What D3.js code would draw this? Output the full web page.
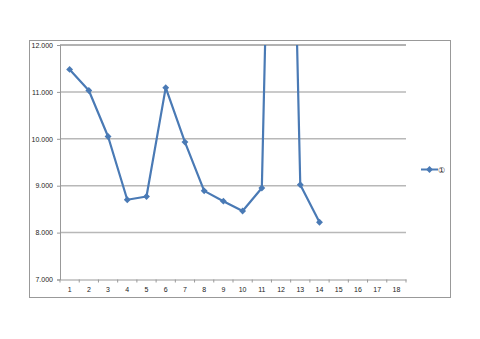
<!DOCTYPE html>
<html>
<head>
<meta charset="utf-8">
<script src="https://cdn.jsdelivr.net/npm/d3@7"></script>
<style>
  body { margin: 0; background: #fff; }
  text { font-family: "Liberation Sans", Arial, sans-serif; }
</style>
</head>
<body>
<svg id="chart"></svg>
<script>
// series values (point 12 runs off the top)
const categories = d3.range(1, 19);
const values = [11.48, 11.03, 10.05, 8.70, 8.77, 11.09, 9.93, 8.89, 8.67, 8.46, 8.95, 27.0, 9.02, 8.22];
const yTicks = [7, 8, 9, 10, 11, 12];
const seriesName = '①';

const width = 480, height = 339;
const svg = d3.select('#chart').attr('width', width).attr('height', height);

// outer chart frame
svg.append('rect')
  .attr('x', 29.5).attr('y', 40.5)
  .attr('width', 421).attr('height', 257)
  .style('fill', '#fff').style('stroke', '#999').style('stroke-width', 1);

const plot = { left: 60, right: 406, top: 45, bottom: 279.5 };

const x = d3.scaleBand().domain(categories).range([plot.left, plot.right]);
const y = d3.scaleLinear().domain([7, 12]).range([plot.bottom, plot.top]);

// gridlines
svg.append('g')
  .selectAll('line')
  .data(yTicks.filter((d) => d > 7))
  .enter()
  .append('line')
  .attr('x1', plot.left).attr('x2', plot.right)
  .attr('y1', (d) => y(d)).attr('y2', (d) => y(d))
  .style('stroke', (d) => (d === 12 ? '#999' : '#b8b8b8'))
  .style('stroke-width', 1.5);

// y axis
const yAxis = svg.append('g')
  .attr('transform', `translate(${plot.left},0)`)
  .call(d3.axisLeft(y).tickValues(yTicks).tickFormat(d3.format('.3f')).tickSize(3).tickPadding(4));
yAxis.select('.domain').style('stroke', '#999');
yAxis.selectAll('.tick line').style('stroke', '#999');
yAxis.selectAll('text').style('font-size', '7px').style('fill', '#222');

// x axis
const xAxis = svg.append('g')
  .attr('transform', `translate(0,${plot.bottom})`)
  .call(d3.axisBottom(x).tickSize(0).tickPadding(8));
xAxis.select('.domain').style('stroke', '#999');
xAxis.selectAll('text').style('font-size', '7px').style('fill', '#222');
// tick marks at category boundaries
xAxis.selectAll('.bound')
  .data(d3.range(categories.length + 1))
  .enter()
  .append('line')
  .attr('x1', (i) => plot.left + i * x.step()).attr('x2', (i) => plot.left + i * x.step())
  .attr('y1', 0).attr('y2', 3)
  .style('stroke', '#999');

// clip line to plot area
svg.append('clipPath').attr('id', 'clip')
  .append('rect')
  .attr('x', plot.left).attr('y', plot.top)
  .attr('width', plot.right - plot.left).attr('height', plot.bottom - plot.top);

const pts = values.map((v, i) => ({ c: categories[i], v }));
const lineColor = '#4a7ab5';

svg.append('path')
  .datum(pts)
  .attr('clip-path', 'url(#clip)')
  .attr('d', d3.line().x((d) => x(d.c) + x.bandwidth() / 2).y((d) => y(d.v)))
  .style('fill', 'none')
  .style('stroke', lineColor)
  .style('stroke-width', 2.2)
  .style('stroke-linejoin', 'round');

const diamond = d3.symbol().type(d3.symbolDiamond2).size(30);
svg.append('g')
  .attr('clip-path', 'url(#clip)')
  .selectAll('path')
  .data(pts)
  .enter()
  .append('path')
  .attr('d', diamond)
  .attr('transform', (d) => `translate(${x(d.c) + x.bandwidth() / 2},${y(d.v)})`)
  .style('fill', lineColor);

// legend
const leg = svg.append('g').attr('transform', 'translate(421,169.5)');
leg.append('line').attr('x1', 0).attr('x2', 17).attr('y1', 0).attr('y2', 0)
  .style('stroke', lineColor).style('stroke-width', 2);
leg.append('path').attr('d', diamond).attr('transform', 'translate(8.5,0)').style('fill', lineColor);
leg.append('text').attr('x', 17).attr('y', 3)
  .text(seriesName)
  .style('font-size', '8px').style('fill', '#222');
</script>
</body>
</html>
